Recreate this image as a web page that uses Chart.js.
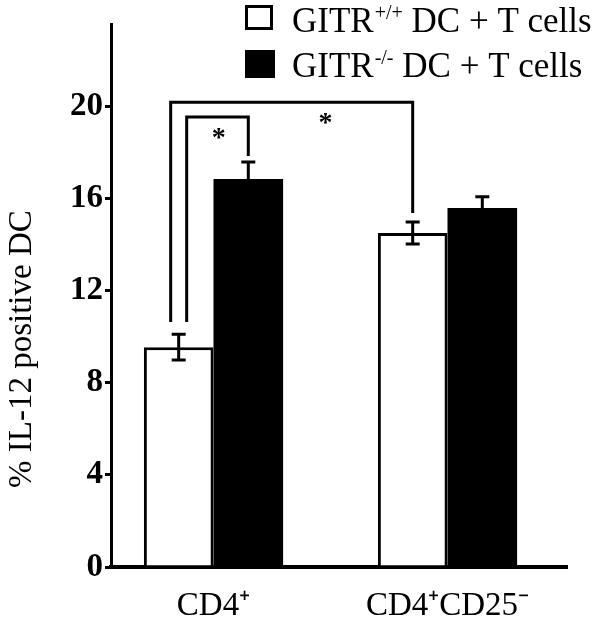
<!DOCTYPE html>
<html><head><meta charset="utf-8">
<script src="https://cdn.jsdelivr.net/npm/chart.js@4/dist/chart.umd.min.js"></script>
<style>html,body{margin:0;padding:0;background:#fff}#wrap{width:600px;height:623px;position:relative}</style>
</head><body><div id="wrap"><canvas id="c"></canvas></div>
<script>
// ---- data ----
const categories = ['CD4\u207A', 'CD4\u207ACD25\u207B'];
const seriesNames = ['GITR+/+ DC + T cells', 'GITR-/- DC + T cells'];
const legendMain = ['GITR', 'GITR'];
const legendSup = ['+/+', '-/-'];
const legendRest = [' DC + T cells', ' DC + T cells'];
const wildType = [9.54, 14.49];
const knockout = [16.83, 15.58];
const wildTypeErr = [0.56, 0.48];
const knockoutErr = [0.74, 0.48];
const yTicks = [0, 4, 8, 12, 16, 20];
const yTitle = '% IL-12 positive DC';
// significance brackets: start bar [dataset, index], end bar, top value, left foot value, right foot value
const bracketFrom = [[0, 0], [0, 0]];
const bracketTo = [[0, 1], [1, 0]];
const bracketTop = [20.17, 19.52];
const bracketLeftFoot = [10.63, 10.63];
const bracketRightFoot = [15.36, 17.83];
const bracketMark = ['*', '*'];

// ---- style ----
const SERIF = '"Liberation Serif", "Times New Roman", serif';
const bracketSideShift = [-8, 8];
const starAlong = [0.64, 0.52];

const errorBars = {
  id: 'errorBars',
  afterDatasetsDraw(chart) {
    const ctx = chart.ctx, y = chart.scales.y;
    const errs = [wildTypeErr, knockoutErr];
    const vals = [wildType, knockout];
    ctx.save();
    ctx.strokeStyle = '#000'; ctx.lineWidth = 3;
    chart.data.datasets.forEach((ds, di) => {
      const meta = chart.getDatasetMeta(di);
      meta.data.forEach((bar, i) => {
        const hi = y.getPixelForValue(vals[di][i] + errs[di][i]);
        const lo = y.getPixelForValue(vals[di][i] - errs[di][i]);
        const x = bar.x;
        ctx.beginPath();
        ctx.moveTo(x, hi); ctx.lineTo(x, lo);
        ctx.moveTo(x - 7, hi); ctx.lineTo(x + 7, hi);
        ctx.moveTo(x - 7, lo); ctx.lineTo(x + 7, lo);
        ctx.stroke();
      });
    });
    ctx.restore();
  }
};

const brackets = {
  id: 'brackets',
  afterDatasetsDraw(chart) {
    const ctx = chart.ctx, y = chart.scales.y;
    ctx.save();
    ctx.strokeStyle = '#000'; ctx.lineWidth = 3; ctx.lineJoin = 'miter';
    for (let k = 0; k < bracketTop.length; k++) {
      const b1 = chart.getDatasetMeta(bracketFrom[k][0]).data[bracketFrom[k][1]];
      const b2 = chart.getDatasetMeta(bracketTo[k][0]).data[bracketTo[k][1]];
      const x1 = b1.x + bracketSideShift[k], x2 = b2.x;
      const yt = y.getPixelForValue(bracketTop[k]);
      ctx.beginPath();
      ctx.moveTo(x1, y.getPixelForValue(bracketLeftFoot[k]));
      ctx.lineTo(x1, yt); ctx.lineTo(x2, yt);
      ctx.lineTo(x2, y.getPixelForValue(bracketRightFoot[k]));
      ctx.stroke();
      ctx.fillStyle = '#000';
      ctx.font = 'bold 28px ' + SERIF;
      ctx.textAlign = 'center'; ctx.textBaseline = 'alphabetic';
      ctx.fillText(bracketMark[k], x1 + (x2 - x1) * starAlong[k], yt + 29);
    }
    ctx.restore();
  }
};

const legendPlugin = {
  id: 'customLegend',
  afterDraw(chart) {
    const ctx = chart.ctx;
    ctx.save();
    const rows = [{box: [245, 5, 28, 25], base: 32}, {box: [245, 50, 30, 28], base: 77}];
    rows.forEach((r, i) => {
      const [bx, by, bw, bh] = r.box;
      if (i === 0) {
        ctx.fillStyle = '#fff'; ctx.fillRect(bx, by, bw, bh);
        ctx.strokeStyle = '#000'; ctx.lineWidth = 3; ctx.strokeRect(bx + 1.5, by + 1.5, bw - 3, bh - 3);
      } else {
        ctx.fillStyle = '#000'; ctx.fillRect(bx, by, bw, bh);
      }
      ctx.fillStyle = '#000'; ctx.textBaseline = 'alphabetic'; ctx.textAlign = 'left';
      let x = 292;
      ctx.font = '35px ' + SERIF;
      ctx.fillText(legendMain[i], x, r.base); x += ctx.measureText(legendMain[i]).width + 1;
      ctx.font = '20px ' + SERIF;
      ctx.fillText(legendSup[i], x, r.base - 13); x += ctx.measureText(legendSup[i]).width;
      ctx.font = '35px ' + SERIF;
      ctx.fillText(legendRest[i], x, r.base);
    });
    ctx.restore();
  }
};

new Chart(document.getElementById('c'), {
  type: 'bar',
  data: {
    datasets: [
      { label: seriesNames[0], data: wildType.map((v, i) => ({x: i, y: v})), backgroundColor: '#fff', borderColor: '#000', borderWidth: 3, borderSkipped: 'start' },
      { label: seriesNames[1], data: knockout.map((v, i) => ({x: i, y: v})), backgroundColor: '#000', borderColor: '#000', borderWidth: 0 }
    ]
  },
  options: {
    responsive: true, maintainAspectRatio: false, animation: false,
    devicePixelRatio: 1,
    layout: { padding: { left: 0, right: 33, top: 24, bottom: 0 } },
    datasets: { bar: { categoryPercentage: 0.595, barPercentage: 1.0 } },
    plugins: { legend: { display: false }, tooltip: { enabled: false } },
    scales: {
      x: {
        type: 'linear', offset: false, min: -0.438, max: 1.5107,
        afterBuildTicks: s => { s.ticks = categories.map((c, i) => ({ value: i })); },
        afterFit: s => { s.height = 56; },
        grid: { display: false },
        border: { display: true, color: '#000', width: 4 },
        ticks: { color: '#000', font: { family: SERIF, size: 33 }, padding: 12, maxRotation: 0, autoSkip: false,
                 callback: v => categories[v] }
      },
      y: {
        min: 0, max: 23.56,
        afterBuildTicks: s => { s.ticks = yTicks.map(v => ({ value: v })); },
        afterFit: s => { s.width = 111; },
        grid: { drawOnChartArea: false, drawTicks: true, tickLength: 6, color: '#000', lineWidth: 3 },
        border: { display: true, color: '#000', width: 3 },
        ticks: { color: '#000', font: { family: SERIF, size: 33, weight: 'bold' }, padding: 2 },
        title: { display: true, text: yTitle + '\u00a0'.repeat(13), color: '#000',
                 font: { family: SERIF, size: 33 }, padding: { top: 3, bottom: 0 } }
      }
    }
  },
  plugins: [errorBars, brackets, legendPlugin]
});
</script>
</body></html>
